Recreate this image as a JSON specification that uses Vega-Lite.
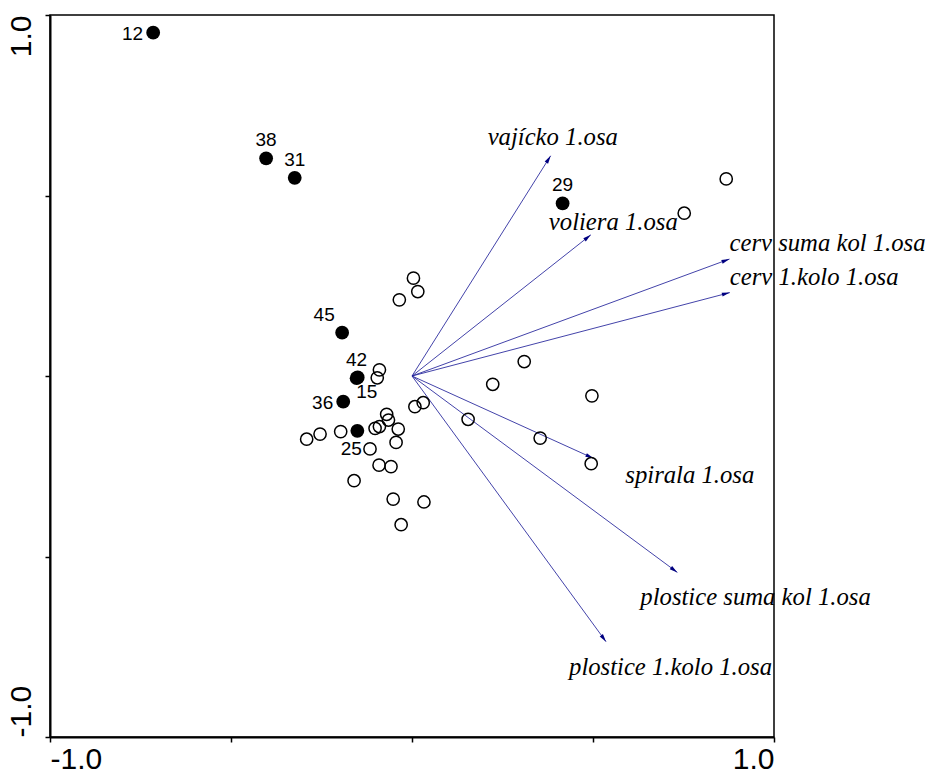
{
  "$schema": "https://vega.github.io/schema/vega-lite/v6.json",
  "width": 724,
  "height": 722,
  "autosize": {"type": "none"},
  "padding": {"left": 50, "top": 15, "right": 152, "bottom": 37},
  "background": "white",
  "config": {
    "view": {"stroke": "black", "strokeWidth": 1.5},
    "axis": {"grid": false, "title": null, "domainColor": "black", "domainWidth": 2, "tickColor": "black", "tickWidth": 1.5, "tickSize": 5, "labelFont": "Liberation Sans", "labelFontSize": 30, "labelColor": "black", "labelFlush": false}
  },
  "datasets": {
    "samples": [
      {"id": "12", "x": -0.715, "y": 0.951, "kind": "filled"},
      {"id": "38", "x": -0.403, "y": 0.603, "kind": "filled"},
      {"id": "31", "x": -0.324, "y": 0.549, "kind": "filled"},
      {"id": "29", "x": 0.416, "y": 0.478, "kind": "filled"},
      {"id": "45", "x": -0.193, "y": 0.120, "kind": "filled"},
      {"id": "42", "x": -0.153, "y": -0.006, "kind": "filled"},
      {"id": "15", "x": -0.150, "y": -0.004, "kind": "filled"},
      {"id": "36", "x": -0.190, "y": -0.071, "kind": "filled"},
      {"id": "25", "x": -0.151, "y": -0.152, "kind": "filled"},
      {"id": "o1", "x": 0.004, "y": 0.271, "kind": "open"},
      {"id": "o2", "x": 0.016, "y": 0.234, "kind": "open"},
      {"id": "o3", "x": -0.035, "y": 0.211, "kind": "open"},
      {"id": "o4", "x": -0.090, "y": 0.017, "kind": "open"},
      {"id": "o5", "x": -0.096, "y": -0.005, "kind": "open"},
      {"id": "o6", "x": 0.008, "y": -0.085, "kind": "open"},
      {"id": "o7", "x": 0.031, "y": -0.074, "kind": "open"},
      {"id": "o8", "x": -0.070, "y": -0.106, "kind": "open"},
      {"id": "o9", "x": -0.065, "y": -0.122, "kind": "open"},
      {"id": "o10", "x": -0.090, "y": -0.140, "kind": "open"},
      {"id": "o11", "x": -0.102, "y": -0.145, "kind": "open"},
      {"id": "o12", "x": -0.038, "y": -0.147, "kind": "open"},
      {"id": "o13", "x": -0.197, "y": -0.154, "kind": "open"},
      {"id": "o14", "x": -0.254, "y": -0.161, "kind": "open"},
      {"id": "o15", "x": -0.291, "y": -0.175, "kind": "open"},
      {"id": "o16", "x": -0.044, "y": -0.184, "kind": "open"},
      {"id": "o17", "x": -0.116, "y": -0.202, "kind": "open"},
      {"id": "o18", "x": -0.091, "y": -0.247, "kind": "open"},
      {"id": "o19", "x": -0.058, "y": -0.251, "kind": "open"},
      {"id": "o20", "x": -0.160, "y": -0.290, "kind": "open"},
      {"id": "o21", "x": -0.052, "y": -0.341, "kind": "open"},
      {"id": "o22", "x": 0.033, "y": -0.349, "kind": "open"},
      {"id": "o23", "x": -0.030, "y": -0.412, "kind": "open"},
      {"id": "o24", "x": 0.310, "y": 0.040, "kind": "open"},
      {"id": "o25", "x": 0.223, "y": -0.023, "kind": "open"},
      {"id": "o26", "x": 0.497, "y": -0.055, "kind": "open"},
      {"id": "o27", "x": 0.155, "y": -0.120, "kind": "open"},
      {"id": "o28", "x": 0.354, "y": -0.172, "kind": "open"},
      {"id": "o29", "x": 0.495, "y": -0.243, "kind": "open"},
      {"id": "o30", "x": 0.868, "y": 0.546, "kind": "open"},
      {"id": "o31", "x": 0.752, "y": 0.451, "kind": "open"}
    ],
    "vars": [
      {"name": "vajícko 1.osa", "x": 0.383, "y": 0.610},
      {"name": "voliera 1.osa", "x": 0.494, "y": 0.391},
      {"name": "cerv suma kol 1.osa", "x": 0.877, "y": 0.324},
      {"name": "cerv 1.kolo 1.osa", "x": 0.878, "y": 0.231},
      {"name": "spirala 1.osa", "x": 0.501, "y": -0.228},
      {"name": "plostice suma kol 1.osa", "x": 0.733, "y": -0.544},
      {"name": "plostice 1.kolo 1.osa", "x": 0.536, "y": -0.736}
    ],
    "one": [{}]
  },
  "encoding": {
    "x": {
      "field": "x", "type": "quantitative",
      "scale": {"domain": [-1, 1], "nice": false, "zero": false},
      "axis": {
        "values": [-1, -0.5, 0, 0.5, 1],
        "labelExpr": "datum.value == 1 ? '1.0' : (datum.value == -1 ? '-1.0' : '')",
        "labelAlign": {"condition": {"test": "datum.value < 0", "value": "left"}, "value": "right"},
        "labelPadding": 2
      }
    },
    "y": {
      "field": "y", "type": "quantitative",
      "scale": {"domain": [-1, 1], "nice": false, "zero": false},
      "axis": {
        "values": [-1, -0.5, 0, 0.5, 1],
        "labelExpr": "datum.value == 1 ? '1.0' : (datum.value == -1 ? '-1.0' : '')",
        "labelAngle": 270,
        "labelAlign": {"condition": {"test": "datum.value < 0", "value": "left"}, "value": "right"},
        "labelBaseline": "bottom",
        "labelPadding": 9
      }
    }
  },
  "layer": [
    {
      "data": {"name": "one"},
      "mark": {"type": "rule", "color": "black", "strokeWidth": 1, "strokeDash": [3, 3]},
      "encoding": {"x": {"datum": 0, "type": "quantitative"}, "y": {"datum": -1, "type": "quantitative"}, "y2": {"datum": 1}}
    },
    {
      "data": {"name": "one"},
      "mark": {"type": "rule", "color": "black", "strokeWidth": 1, "strokeDash": [3, 3]},
      "encoding": {"y": {"datum": 0, "type": "quantitative"}, "x": {"datum": -1, "type": "quantitative"}, "x2": {"datum": 1}}
    },
    {
      "data": {"name": "vars"},
      "mark": {"type": "rule", "color": "#22229a", "strokeWidth": 1, "opacity": 0.85},
      "encoding": {"x2": {"datum": 0}, "y2": {"datum": 0}}
    },
    {
      "data": {"name": "vars"},
      "transform": [{"calculate": "atan2(datum.x, datum.y) * 180 / PI", "as": "ang"}],
      "mark": {"type": "point", "shape": "M0,0L0.5,2L-0.5,2Z", "filled": true, "color": "#000080", "size": 64, "opacity": 1},
      "encoding": {"angle": {"field": "ang", "type": "quantitative", "scale": null}}
    },
    {
      "data": {"name": "samples"},
      "transform": [{"filter": "datum.kind == 'open'"}],
      "mark": {"type": "point", "shape": "circle", "filled": false, "fill": null, "stroke": "black", "strokeWidth": 1.5, "size": 150, "opacity": 1}
    },
    {
      "data": {"name": "samples"},
      "transform": [{"filter": "datum.kind == 'filled'"}],
      "mark": {"type": "point", "shape": "circle", "filled": true, "color": "black", "size": 190, "opacity": 1}
    },
    {
      "data": {"name": "samples"},
      "transform": [{"filter": "indexof(['38','31','29','42'], datum.id) >= 0"}],
      "mark": {"type": "text", "font": "Liberation Sans", "fontSize": 19, "color": "black", "align": "center", "baseline": "middle", "dy": -18},
      "encoding": {"text": {"field": "id"}}
    },
    {
      "data": {"name": "samples"},
      "transform": [{"filter": "indexof(['12','36'], datum.id) >= 0"}],
      "mark": {"type": "text", "font": "Liberation Sans", "fontSize": 19, "color": "black", "align": "right", "baseline": "middle", "dx": -10, "dy": 1},
      "encoding": {"text": {"field": "id"}}
    },
    {
      "data": {"name": "samples"},
      "transform": [{"filter": "datum.id == '45'"}],
      "mark": {"type": "text", "font": "Liberation Sans", "fontSize": 19, "color": "black", "align": "center", "baseline": "middle", "dx": -18, "dy": -18},
      "encoding": {"text": {"field": "id"}}
    },
    {
      "data": {"name": "samples"},
      "transform": [{"filter": "datum.id == '15'"}],
      "mark": {"type": "text", "font": "Liberation Sans", "fontSize": 19, "color": "black", "align": "center", "baseline": "middle", "dx": 9, "dy": 15},
      "encoding": {"text": {"field": "id"}}
    },
    {
      "data": {"name": "samples"},
      "transform": [{"filter": "datum.id == '25'"}],
      "mark": {"type": "text", "font": "Liberation Sans", "fontSize": 19, "color": "black", "align": "center", "baseline": "middle", "dx": -6, "dy": 18},
      "encoding": {"text": {"field": "id"}}
    },
    {
      "data": {"name": "vars"},
      "transform": [{"filter": "datum.name == 'vajícko 1.osa'"}],
      "mark": {"type": "text", "font": "Liberation Serif", "fontStyle": "italic", "fontSize": 24.7, "color": "black", "align": "left", "baseline": "alphabetic", "dx": -63, "dy": -11},
      "encoding": {"text": {"field": "name"}}
    },
    {
      "data": {"name": "vars"},
      "transform": [{"filter": "datum.name == 'voliera 1.osa'"}],
      "mark": {"type": "text", "font": "Liberation Serif", "fontStyle": "italic", "fontSize": 24.7, "color": "black", "align": "left", "baseline": "alphabetic", "dx": -42, "dy": -5},
      "encoding": {"text": {"field": "name"}}
    },
    {
      "data": {"name": "vars"},
      "transform": [{"filter": "indexof(datum.name, 'cerv') == 0"}],
      "mark": {"type": "text", "font": "Liberation Serif", "fontStyle": "italic", "fontSize": 24.7, "color": "black", "align": "left", "baseline": "alphabetic", "dx": 0, "dy": -8},
      "encoding": {"text": {"field": "name"}}
    },
    {
      "data": {"name": "vars"},
      "transform": [{"filter": "datum.name == 'spirala 1.osa'"}],
      "mark": {"type": "text", "font": "Liberation Serif", "fontStyle": "italic", "fontSize": 24.7, "color": "black", "align": "left", "baseline": "alphabetic", "dx": 32, "dy": 25},
      "encoding": {"text": {"field": "name"}}
    },
    {
      "data": {"name": "vars"},
      "transform": [{"filter": "indexof(datum.name, 'plostice') == 0"}],
      "mark": {"type": "text", "font": "Liberation Serif", "fontStyle": "italic", "fontSize": 24.7, "color": "black", "align": "left", "baseline": "alphabetic", "dx": -37, "dy": 33},
      "encoding": {"text": {"field": "name"}}
    }
  ]
}
